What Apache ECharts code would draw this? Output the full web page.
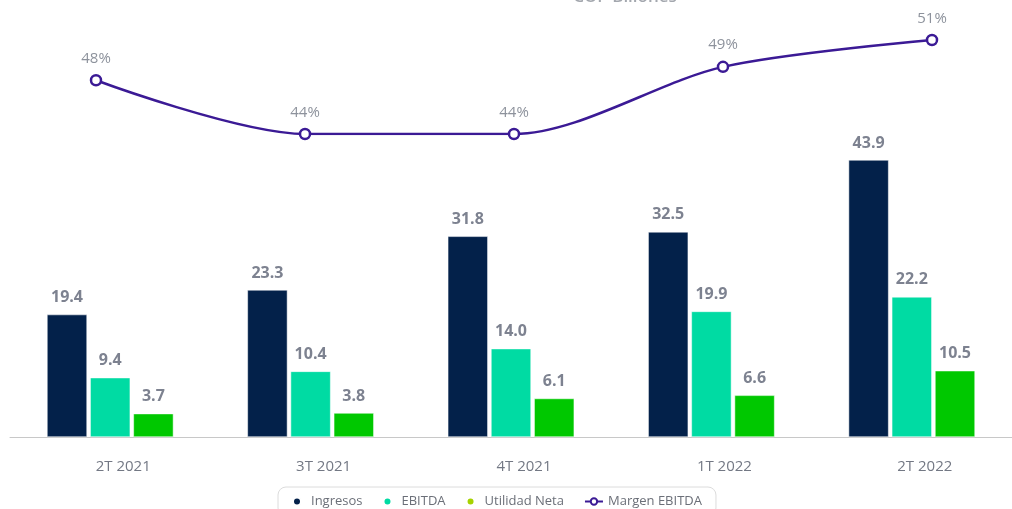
<!DOCTYPE html>
<html><head><meta charset="utf-8">
<script src="https://cdn.jsdelivr.net/npm/echarts@6/dist/echarts.min.js"></script>
<style>html,body{margin:0;padding:0;background:#fff}#c{width:1012px;height:509px}</style>
</head><body><div id="c"></div>
<script>
const categories = ['2T 2021','3T 2021','4T 2021','1T 2022','2T 2022'];
const ingresos = [19.4, 23.3, 31.8, 32.5, 43.9];
const ebitda = [9.4, 10.4, 14.0, 19.9, 22.2];
const utilidad = [3.7, 3.8, 6.1, 6.6, 10.5];
const margen = [48, 44, 44, 49, 51];
const titleText = 'COP Billones';

const chart = echarts.init(document.getElementById('c'), null, {renderer:'canvas'});
const font = "'Open Sans', sans-serif";
const barLabel = {show:true, position:'top', distance:9, color:'#7d8290', fontSize:16, fontWeight:'bold', fontFamily:font, formatter: p => p.value.toFixed(1)};
chart.setOption({
  animation:false,
  backgroundColor:'#fff',
  title:{text:titleText, left:620, top:-16, textAlign:'center', textStyle:{color:'#a3a7ae', fontSize:17, fontWeight:600, fontFamily:font}},
  legend:{
    top:487, left:278, itemGap:20, padding:[8,14,8,14],
    borderColor:'#dcdcdc', borderWidth:1, borderRadius:8,
    itemWidth:18, itemHeight:8,
    textStyle:{color:'#6b6f78', fontSize:13, fontFamily:font},
    data:[
      {name:'Ingresos', icon:'circle'},
      {name:'EBITDA', icon:'circle'},
      {name:'Utilidad Neta', icon:'circle', itemStyle:{color:'#a6d200'}},
      {name:'Margen EBITDA'}
    ]
  },
  grid:[
    {left:10, right:0, top:121.5, bottom:72},
    {left:96, right:80, top:40, bottom:375}
  ],
  xAxis:[
    {type:'category', gridIndex:0, data:categories, boundaryGap:true,
     axisLine:{lineStyle:{color:'#c8c8c8', width:1}}, axisTick:{show:false},
     axisLabel:{color:'#737884', fontSize:15, fontFamily:font, margin:22, padding:[0,0,0,26]}},
    {type:'category', gridIndex:1, data:categories, boundaryGap:false, show:false}
  ],
  yAxis:[
    {type:'value', gridIndex:0, min:0, max:50, show:false, splitLine:{show:false}},
    {type:'value', gridIndex:1, min:44, max:51, show:false, splitLine:{show:false}}
  ],
  series:[
    {name:'Ingresos', type:'bar', xAxisIndex:0, yAxisIndex:0, data:ingresos, barWidth:40, barGap:'8%',
     itemStyle:{color:'#03214a', borderColor:'#ffffff', borderWidth:0.5}, label:barLabel},
    {name:'EBITDA', type:'bar', xAxisIndex:0, yAxisIndex:0, data:ebitda, barWidth:40, barGap:'8%',
     itemStyle:{color:'#00dba3', borderColor:'#ffffff', borderWidth:0.5}, label:barLabel},
    {name:'Utilidad Neta', type:'bar', xAxisIndex:0, yAxisIndex:0, data:utilidad, barWidth:40, barGap:'8%',
     itemStyle:{color:'#00c800', borderColor:'#ffffff', borderWidth:0.5}, label:barLabel},
    {name:'Margen EBITDA', type:'line', xAxisIndex:1, yAxisIndex:1, data:margen, smooth:0.3,
     symbol:'circle', symbolSize:10,
     lineStyle:{color:'#3b1a95', width:2.5},
     itemStyle:{color:'#ffffff', borderColor:'#3b1a95', borderWidth:2.5},
     label:{show:true, position:'top', distance:8, color:'#8d929c', fontSize:15, fontFamily:font, formatter: p => p.value + '%'}}
  ]
});
</script></body></html>
